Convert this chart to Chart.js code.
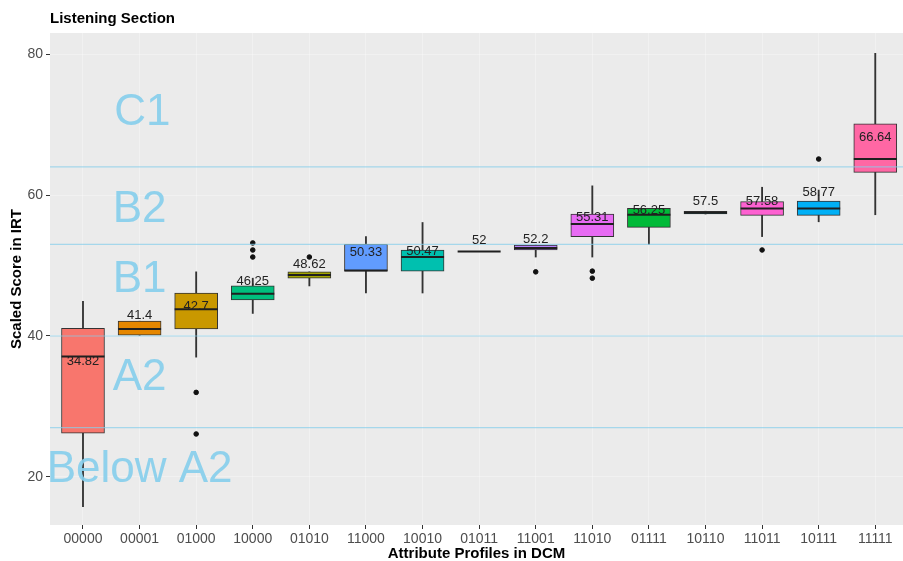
<!DOCTYPE html>
<html>
<head>
<meta charset="utf-8">
<title>Listening Section</title>
<script src="https://cdn.jsdelivr.net/npm/chart.js@4.4.1/dist/chart.umd.min.js"></script>
<style>
  html, body { margin: 0; padding: 0; background: #ffffff; }
  #wrap { width: 903px; height: 561px; position: relative; }
</style>
</head>
<body>
<div id="wrap"><canvas id="chart" width="903" height="561"></canvas></div>
<script>
// Attribute profiles (x categories)
const categories = ['00000', '00001', '01000', '10000', '01010', '11000', '10010', '01011',
                    '11001', '11010', '01111', '10110', '11011', '10111', '11111'];

// Five-number summaries of the scaled IRT scores per profile
const whiskerLow  = [15.8, 40.1, 37.0, 43.2, 47.1, 46.1, 46.1, 52.0, 51.2, 51.2, 53.0, 57.3, 54.1, 56.2, 57.2];
const q1          = [26.2, 40.1, 41.0, 45.1, 48.2, 49.2, 49.2, 52.0, 52.2, 54.1, 55.4, 57.3, 57.1, 57.1, 63.2];
const medians     = [37.1, 41.0, 43.8, 46.0, 48.65, 49.3, 51.2, 52.0, 52.5, 55.9, 57.2, 57.5, 58.1, 58.1, 65.1];
const q3          = [41.1, 42.1, 46.1, 47.1, 49.1, 53.0, 52.2, 52.0, 52.9, 57.3, 58.1, 57.7, 59.05, 59.15, 70.1];
const whiskerHigh = [44.9, 42.1, 49.1, 48.2, 49.1, 54.1, 56.1, 52.0, 52.9, 61.3, 58.1, 57.7, 61.1, 60.7, 80.1];

// Mean score printed above each box
const means = [34.82, 41.4, 42.7, 46.25, 48.62, 50.33, 50.47, 52, 52.2, 55.31, 56.25, 57.5, 57.58, 58.77, 66.64];

// Outlying scores
const outlierProfiles = ['01000', '01000', '10000', '10000', '10000', '01010', '11001', '11010', '11010', '11011', '10111'];
const outlierScores   = [32.0, 26.1, 53.2, 52.2, 51.2, 51.2, 49.1, 49.2, 48.2, 52.2, 65.1];

// Box fill colours (ggplot hue palette by profile)
const boxColors = ['#F8766D', '#E58700', '#C99800', '#00BF7D', '#A3A500', '#619CFF', '#00C0AF', '#6BB100',
                   '#B983FF', '#E76BF3', '#00BA38', '#00BCD8', '#FD61D1', '#00B0F6', '#FF67A4'];

// CEFR cut scores and band labels
const cutScores  = [64, 53, 40, 27];
const bandNames  = ['C1', 'B2', 'B1', 'A2', 'Below A2'];
const bandX      = [1.05, 1.0, 1.0, 1.0, 1.0];
const bandY      = [71.6, 57.9, 48.0, 34.0, 21.0];

// Axis ticks
const yTicks = [20, 40, 60, 80];

const FONT = "'Liberation Sans', Arial, Helvetica, sans-serif";
const idx = categories.map((_, i) => i);

const plotExtras = {
  id: 'plotExtras',
  beforeDraw(chart) {
    const { ctx, chartArea: a } = chart;
    ctx.save();
    ctx.fillStyle = '#EBEBEB';
    ctx.fillRect(a.left, a.top, a.right - a.left, a.bottom - a.top);
    ctx.restore();
  },
  afterDatasetsDraw(chart) {
    const { ctx, chartArea: a, scales: { x, y } } = chart;
    ctx.save();
    ctx.beginPath();
    ctx.rect(a.left, a.top, a.right - a.left, a.bottom - a.top);
    ctx.clip();

    // median lines across each box
    const boxMeta = chart.getDatasetMeta(1);
    ctx.strokeStyle = '#1f1f1f';
    ctx.lineWidth = 2;
    boxMeta.data.forEach((bar, i) => {
      const half = bar.width / 2;
      const py = y.getPixelForValue(medians[i]);
      ctx.beginPath();
      ctx.moveTo(bar.x - half, py);
      ctx.lineTo(bar.x + half, py);
      ctx.stroke();
    });

    // cut-score reference lines
    ctx.strokeStyle = 'rgba(135, 206, 235, 0.7)';
    ctx.lineWidth = 1.2;
    cutScores.forEach(v => {
      const py = y.getPixelForValue(v);
      ctx.beginPath();
      ctx.moveTo(a.left, py);
      ctx.lineTo(a.right, py);
      ctx.stroke();
    });

    // band names
    ctx.fillStyle = 'rgba(135, 206, 235, 0.92)';
    ctx.font = '44px ' + FONT;
    ctx.textAlign = 'center';
    ctx.textBaseline = 'middle';
    bandNames.forEach((name, i) => {
      ctx.fillText(name, x.getPixelForValue(bandX[i]), y.getPixelForValue(bandY[i]));
    });

    // mean labels
    ctx.fillStyle = '#222222';
    ctx.font = '13px ' + FONT;
    means.forEach((m, i) => {
      ctx.fillText(String(m), x.getPixelForValue(i), y.getPixelForValue(m) - 11);
    });
    ctx.restore();
  }
};

new Chart(document.getElementById('chart'), {
  type: 'bar',
  data: {
    datasets: [
      {
        label: 'whiskers',
        data: idx.map(i => ({ x: i, y: [whiskerLow[i], whiskerHigh[i]] })),
        backgroundColor: '#333333',
        borderWidth: 0,
        barThickness: 1.2,
        grouped: false,
        order: 3
      },
      {
        label: 'boxes',
        data: idx.map(i => ({ x: i, y: [q1[i], q3[i]] })),
        backgroundColor: boxColors,
        borderColor: '#333333',
        borderWidth: 1,
        borderSkipped: false,
        barThickness: 43,
        grouped: false,
        order: 2
      },
      {
        label: 'outliers',
        type: 'scatter',
        data: outlierProfiles.map((p, k) => ({ x: categories.indexOf(p), y: outlierScores[k] })),
        backgroundColor: '#111111',
        borderColor: '#111111',
        pointRadius: 2.3,
        showLine: false,
        order: 1
      }
    ]
  },
  options: {
    responsive: false,
    animation: false,
    layout: { autoPadding: false, padding: { left: 0, right: 0, top: 0, bottom: 0 } },
    plugins: {
      legend: { display: false },
      tooltip: { enabled: false },
      title: {
        display: true,
        text: 'Listening Section',
        align: 'start',
        fullSize: false,
        color: '#000000',
        font: { family: FONT, size: 15, weight: 'bold' },
        padding: { top: 10, bottom: 5 }
      }
    },
    scales: {
      x: {
        type: 'linear',
        offset: false,
        min: -0.583,
        max: 14.49,
        afterBuildTicks: s => { s.ticks = idx.map(i => ({ value: i })); },
        afterFit: s => { s.height = 36; s.paddingRight = 0; },
        ticks: {
          callback: v => categories[v],
          color: '#4D4D4D',
          font: { family: FONT, size: 14 },
          padding: 2,
          maxRotation: 0,
          autoSkip: false
        },
        grid: {
          offset: false,
          color: 'rgba(255,255,255,0.3)',
          lineWidth: 1,
          tickLength: 4,
          tickColor: '#333333',
          tickWidth: 1
        },
        border: { display: false },
        title: {
          display: true,
          text: 'Attribute Profiles in DCM',
          color: '#000000',
          font: { family: FONT, size: 15, weight: 'bold', lineHeight: 1 },
          padding: { top: 0, bottom: 0 }
        }
      },
      y: {
        min: 13.19,
        max: 82.98,
        afterBuildTicks: s => { s.ticks = yTicks.map(v => ({ value: v })); },
        afterFit: s => { s.width = 50; },
        ticks: {
          color: '#4D4D4D',
          font: { family: FONT, size: 14 },
          padding: 3
        },
        grid: {
          color: 'rgba(255,255,255,0.3)',
          lineWidth: 1,
          tickLength: 4,
          tickColor: '#333333',
          tickWidth: 1
        },
        border: { display: false },
        title: {
          display: true,
          text: 'Scaled Score in IRT',
          color: '#000000',
          font: { family: FONT, size: 15, weight: 'bold' },
          padding: { top: 8, bottom: 0 }
        }
      }
    }
  },
  plugins: [plotExtras]
});
</script>
</body>
</html>
